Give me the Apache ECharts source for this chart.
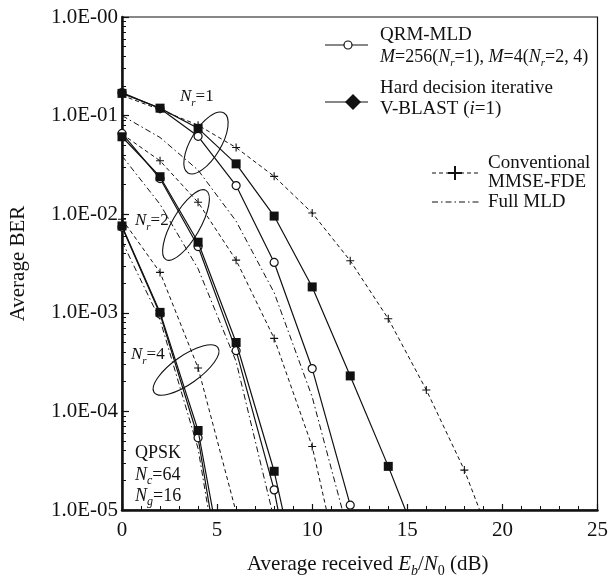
<!DOCTYPE html>
<html>
<head>
<meta charset="utf-8">
<script src="https://cdn.jsdelivr.net/npm/echarts@6/dist/echarts.min.js"></script>
<style>
  html, body { margin: 0; padding: 0; background: #fff; }
  #chart { width: 611px; height: 583px; }
</style>
</head>
<body>
<div id="chart"></div>
<script>
// Eb/N0 points (dB)
const ebn0 = [0, 2, 4, 6, 8, 10, 12, 14, 16, 18, 20];

// Nr = 1
const qrmNr1 = [0.171, 0.118, 0.0617, 0.0195, 0.00324, 2.72e-4, 1.12e-5];
const vblastNr1 = [0.168, 0.119, 0.0743, 0.0324, 0.00957, 0.00183, 2.29e-4, 2.77e-5, 2.9e-6];
const mmseNr1 = [0.16, 0.115, 0.08, 0.0474, 0.0242, 0.0103, 0.00337, 8.7e-4, 1.65e-4, 2.54e-5, 2.5e-6];
const mldNr1 = [0.1, 0.06, 0.028, 0.0085, 0.0016, 1.4e-4, 5e-6];

// Nr = 2
const qrmNr2 = [0.066, 0.023, 0.0047, 4.13e-4, 1.6e-5, 1.6e-7];
const vblastNr2 = [0.061, 0.024, 0.0052, 5.0e-4, 2.47e-5, 4.5e-7];
const mmseNr2 = [0.065, 0.0348, 0.0132, 0.00342, 5.5e-4, 4.4e-5, 8.5e-7];
const mldNr2 = [0.039, 0.0126, 0.0028, 3.2e-4, 8e-6];

// Nr = 4
const qrmNr4 = [0.0074, 9.7e-4, 5.4e-5, 2.5e-7];
const vblastNr4 = [0.0076, 0.00101, 6.4e-5, 5e-7];
const mmseNr4 = [0.0089, 0.00257, 2.76e-4, 9.5e-6, 2e-7];
const mldNr4 = [0.0053, 8.5e-4, 4.2e-5, 2e-7];

// axis labels
const yTickLabels = ['1.0E-00', '1.0E-01', '1.0E-02', '1.0E-03', '1.0E-04', '1.0E-05'];
const minorYTicks = [];
for (let e = -5; e < 0; e++) {
  for (let m = 2; m <= 9; m++) minorYTicks.push(m * Math.pow(10, e));
}

const serif = '"Liberation Serif", "Times New Roman", serif';
const black = '#111';

function pairs(values) {
  return values.map((v, i) => [ebn0[i], v]);
}

const plusPath = 'path://M0,5L10,5M5,0L5,10';

function qrmSeries(vals) {
  return {
    type: 'line', data: pairs(vals), symbol: 'circle', symbolSize: 8, z: 5,
    lineStyle: { color: black, width: 1.2 },
    itemStyle: { color: '#fff', borderColor: black, borderWidth: 1.2 }
  };
}
function vblastSeries(vals) {
  return {
    type: 'line', data: pairs(vals), symbol: 'rect', symbolSize: 9, z: 6,
    lineStyle: { color: black, width: 1.2 },
    itemStyle: { color: black }
  };
}
function mmseSeries(vals) {
  return {
    type: 'line', data: pairs(vals), symbol: plusPath, symbolSize: 8, z: 3,
    lineStyle: { color: black, width: 1, type: [4, 3] },
    itemStyle: { color: black, borderColor: black, borderWidth: 1.1 }
  };
}
function mldSeries(vals) {
  return {
    type: 'line', data: pairs(vals), symbol: 'none', z: 2,
    lineStyle: { color: black, width: 1, type: [6, 3, 1.5, 3] }
  };
}

function makeRich(size, subSize) {
  return {
    i: { fontFamily: serif, fontStyle: 'italic', fontSize: size, lineHeight: 24, fill: black, color: black },
    sub: { fontFamily: serif, fontStyle: 'italic', fontSize: subSize, lineHeight: subSize, verticalAlign: 'bottom', fill: black, color: black }
  };
}

function label(x, y, text, size, subSize) {
  return {
    type: 'text', x: x, y: y, z: 100,
    style: {
      text: text, fill: black, fontFamily: serif, fontSize: size, lineHeight: 24,
      align: 'left', verticalAlign: 'middle', textAlign: 'left', textVerticalAlign: 'middle',
      rich: makeRich(size, subSize || 12)
    }
  };
}

function ellipse(cx, cy, rx, ry, deg) {
  return {
    type: 'ellipse', x: cx, y: cy, rotation: deg * Math.PI / 180, z: 100,
    shape: { cx: 0, cy: 0, rx: rx, ry: ry },
    style: { fill: 'none', stroke: black, lineWidth: 1.1 }
  };
}

const graphics = [
  // legend
  { type: 'line', shape: { x1: 325, y1: 45, x2: 368, y2: 45 }, style: { stroke: black, lineWidth: 1.2 }, z: 100 },
  { type: 'circle', shape: { cx: 348, cy: 45, r: 4 }, style: { fill: '#fff', stroke: black, lineWidth: 1.2 }, z: 101 },
  label(380, 35, 'QRM-MLD', 19),
  label(380, 57, '{i|M}=256({i|N}{sub|r}=1), {i|M}=4({i|N}{sub|r}=2, 4)', 18, 11),
  { type: 'line', shape: { x1: 325, y1: 102, x2: 368, y2: 102 }, style: { stroke: black, lineWidth: 1.2 }, z: 100 },
  { type: 'polygon', shape: { points: [[353, 94], [361, 102], [353, 110], [345, 102]] }, style: { fill: black }, z: 101 },
  label(380, 88, 'Hard decision iterative', 19),
  label(380, 109, 'V-BLAST ({i|i}=1)', 19),
  { type: 'line', shape: { x1: 432, y1: 173, x2: 480, y2: 173 }, style: { stroke: black, lineWidth: 1, lineDash: [4, 3] }, z: 100 },
  { type: 'line', shape: { x1: 448, y1: 173, x2: 462, y2: 173 }, style: { stroke: black, lineWidth: 2 }, z: 101 },
  { type: 'line', shape: { x1: 455, y1: 166, x2: 455, y2: 180 }, style: { stroke: black, lineWidth: 2 }, z: 101 },
  label(488, 163, 'Conventional', 19),
  label(488, 182, 'MMSE-FDE', 19),
  { type: 'line', shape: { x1: 432, y1: 202, x2: 480, y2: 202 }, style: { stroke: black, lineWidth: 1, lineDash: [6, 3, 1.5, 3] }, z: 100 },
  label(488, 202, 'Full MLD', 19),
  // Nr annotations
  ellipse(206, 143, 35, 15, 59),
  ellipse(186, 225, 40, 14, 60),
  ellipse(186, 370, 39, 14, 35),
  label(180, 97, '{i|N}{sub|r}=1', 17, 11),
  label(135, 221, '{i|N}{sub|r}=2', 17, 11),
  label(131, 355, '{i|N}{sub|r}=4', 17, 11),
  // system parameters
  label(135, 453, 'QPSK', 18),
  label(135, 475, '{i|N}{sub|c}=64', 18),
  label(135, 496, '{i|N}{sub|g}=16', 18)
];

const option = {
  animation: false,
  backgroundColor: '#fff',
  grid: {
    left: 122, right: 13, top: 17, bottom: 70,
    show: true, borderColor: black, borderWidth: 1.2
  },
  xAxis: {
    type: 'value', min: 0, max: 25, interval: 5,
    axisLine: { lineStyle: { color: black, width: 2.5 } },
    axisTick: { inside: true, length: 6, lineStyle: { color: black, width: 1.2 } },
    minorTick: { show: true, splitNumber: 5, length: 4, lineStyle: { color: black, width: 1 } },
    axisLabel: { color: black, fontFamily: serif, fontSize: 21, margin: 10 },
    splitLine: { show: false },
    name: 'Average received {i|E}{subi|b}/{i|N}{sub|0} (dB)',
    nameLocation: 'middle', nameGap: 40,
    nameTextStyle: {
      color: black, fontFamily: serif, fontSize: 21, lineHeight: 28,
      padding: [0, 0, 0, 16],
      rich: {
        i: { fontFamily: serif, fontStyle: 'italic', fontSize: 21, lineHeight: 28, color: black },
        subi: { fontFamily: serif, fontStyle: 'italic', fontSize: 14, lineHeight: 14, verticalAlign: 'bottom', color: black },
        sub: { fontFamily: serif, fontSize: 14, lineHeight: 14, verticalAlign: 'bottom', color: black }
      }
    }
  },
  yAxis: [{
    type: 'log', logBase: 10, min: 1e-5, max: 1,
    axisLine: { show: true, lineStyle: { color: black, width: 2.5 } },
    axisTick: { show: true, inside: true, length: 7, lineStyle: { color: black, width: 1.2 } },
    axisLabel: {
      color: black, fontFamily: serif, fontSize: 21, margin: 4,
      formatter: function (v) { return yTickLabels[Math.round(-Math.log10(v))]; }
    },
    splitLine: { show: false },
    name: 'Average BER', nameLocation: 'middle', nameGap: 93, nameRotate: 90,
    nameTextStyle: { color: black, fontFamily: serif, fontSize: 21 }
  }, {
    type: 'log', logBase: 10, min: 1e-5, max: 1, position: 'left',
    axisLine: { show: false },
    axisLabel: { show: false },
    axisTick: { show: true, inside: true, length: 4, customValues: minorYTicks, lineStyle: { color: black, width: 1 } },
    splitLine: { show: false }
  }],
  graphic: graphics,
  series: [
    mldSeries(mldNr1), mldSeries(mldNr2), mldSeries(mldNr4),
    mmseSeries(mmseNr1), mmseSeries(mmseNr2), mmseSeries(mmseNr4),
    qrmSeries(qrmNr1), qrmSeries(qrmNr2), qrmSeries(qrmNr4),
    vblastSeries(vblastNr1), vblastSeries(vblastNr2), vblastSeries(vblastNr4)
  ]
};

const chart = echarts.init(document.getElementById('chart'));
chart.setOption(option);
</script>
</body>
</html>
